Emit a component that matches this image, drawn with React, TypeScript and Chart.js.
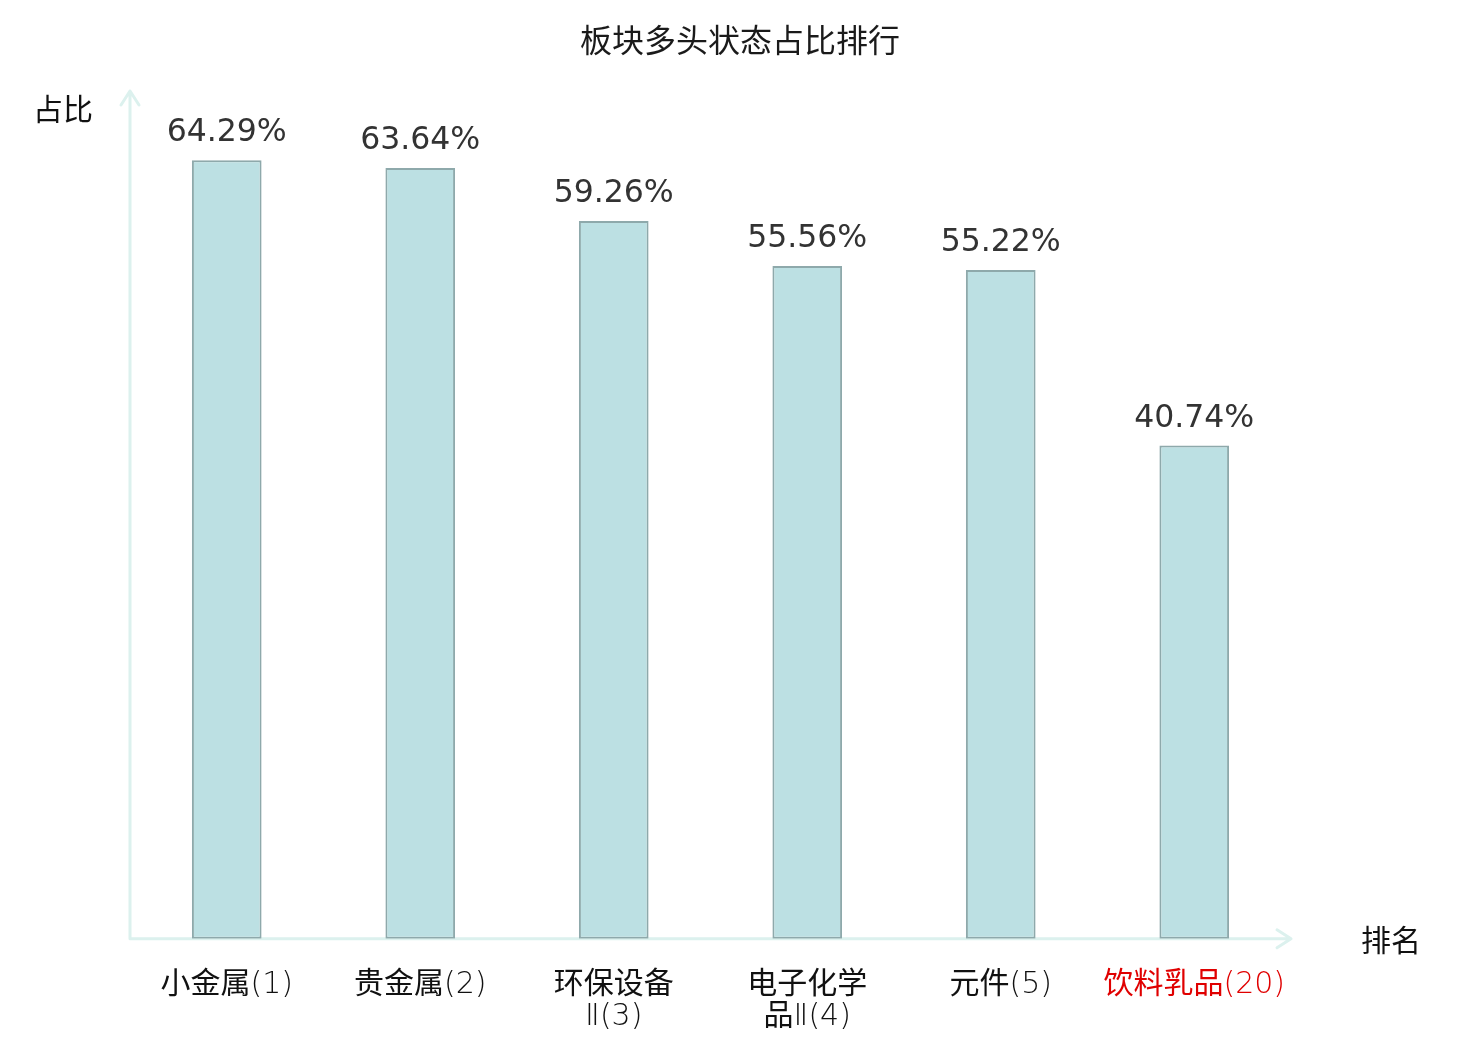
import { useEffect, useRef } from "react";
import { Chart, registerables } from "chart.js";

Chart.register(...registerables);

// categories (ranking), split in lines as in the original
const categories: string[][] = [
  ["小金属(1)"],
  ["贵金属(2)"],
  ["环保设备", "Ⅱ(3)"],
  ["电子化学", "品Ⅱ(4)"],
  ["元件(5)"],
  ["饮料乳品(20)"],
];
const shares = [64.29, 63.64, 59.26, 55.56, 55.22, 40.74];
const highlightIndex = 5;

const TITLE = "板块多头状态占比排行";
const Y_NAME = "占比";
const X_NAME = "排名";

const AXIS_COLOR = "#dcf1ee";
const FONT = "'DejaVu Sans', 'Noto Sans CJK SC', sans-serif";
const TICK_FONT = "'DejaVu Sans Light', 'Noto Sans CJK SC', sans-serif";

// draws axes with arrows, bar value labels, title and axis names
const decorPlugin = {
  id: "decor",
  beforeDatasetsDraw(chart: Chart) {
    const { ctx, chartArea } = chart;
    const { left, right, top, bottom } = chartArea;
    ctx.save();
    ctx.strokeStyle = AXIS_COLOR;
    ctx.lineWidth = 3;
    ctx.lineCap = "round";
    ctx.lineJoin = "round";
    // y axis
    ctx.beginPath();
    ctx.moveTo(left, bottom);
    ctx.lineTo(left, top);
    ctx.moveTo(left - 9, top + 14);
    ctx.lineTo(left, top);
    ctx.lineTo(left + 9, top + 14);
    // x axis
    ctx.moveTo(left, bottom);
    ctx.lineTo(right, bottom);
    ctx.moveTo(right - 14, bottom - 9);
    ctx.lineTo(right, bottom);
    ctx.lineTo(right - 14, bottom + 9);
    ctx.stroke();
    ctx.restore();
  },
  afterDatasetsDraw(chart: Chart) {
    const { ctx, chartArea } = chart;
    ctx.save();
    ctx.textAlign = "center";
    ctx.textBaseline = "middle";
    // value labels
    ctx.fillStyle = "#333333";
    ctx.font = `31.5px ${FONT}`;
    const meta = chart.getDatasetMeta(0);
    meta.data.forEach((bar: any, i: number) => {
      ctx.fillText(shares[i].toFixed(2) + "%", bar.x, bar.y - 27);
    });
    // title
    ctx.fillStyle = "#1a1a1a";
    ctx.font = `32px ${FONT}`;
    ctx.fillText(TITLE, chart.width / 2, 44);
    // axis names
    ctx.fillStyle = "#111111";
    ctx.font = `30px ${FONT}`;
    ctx.fillText(Y_NAME, chartArea.left - 67, chartArea.top + 21);
    ctx.fillText(X_NAME, chartArea.right + 100, chartArea.bottom + 4);
    ctx.restore();
  },
};

const App = () => {
  const canvasRef = useRef<HTMLCanvasElement>(null);

  useEffect(() => {
    document.body.style.margin = "0";
    if (!canvasRef.current) return;

    const chart = new Chart(canvasRef.current, {
      type: "bar",
      data: {
        labels: categories,
        datasets: [
          {
            data: shares,
            backgroundColor: "#bce0e3",
            borderColor: "#8ea9ab",
            borderWidth: 2,
            borderSkipped: false,
            barPercentage: 0.36,
            categoryPercentage: 1,
          },
        ],
      },
      options: {
        responsive: false,
        animation: false,
        devicePixelRatio: 1,
        layout: { padding: { left: 130, right: 189, top: 91, bottom: -23 } },
        plugins: {
          legend: { display: false },
          tooltip: { enabled: false },
          title: { display: false },
        },
        scales: {
          x: {
            grid: { display: false, drawTicks: false },
            border: { display: false },
            ticks: {
              autoSkip: false,
              maxRotation: 0,
              padding: 30,
              font: { family: TICK_FONT, size: 30, lineHeight: 1.07 },
              color: (c: any) => (c.index === highlightIndex ? "#e00000" : "#111111"),
            },
          },
          y: {
            display: false,
            min: 0,
            max: 70,
          },
        },
      },
      plugins: [decorPlugin],
    });

    return () => {
      chart.destroy();
    };
  }, []);

  return (
    <div style={{ width: 1480, height: 1040, background: "#ffffff" }}>
      <canvas ref={canvasRef} width={1480} height={1040} style={{ display: "block" }}></canvas>
    </div>
  );
};

export default App;
